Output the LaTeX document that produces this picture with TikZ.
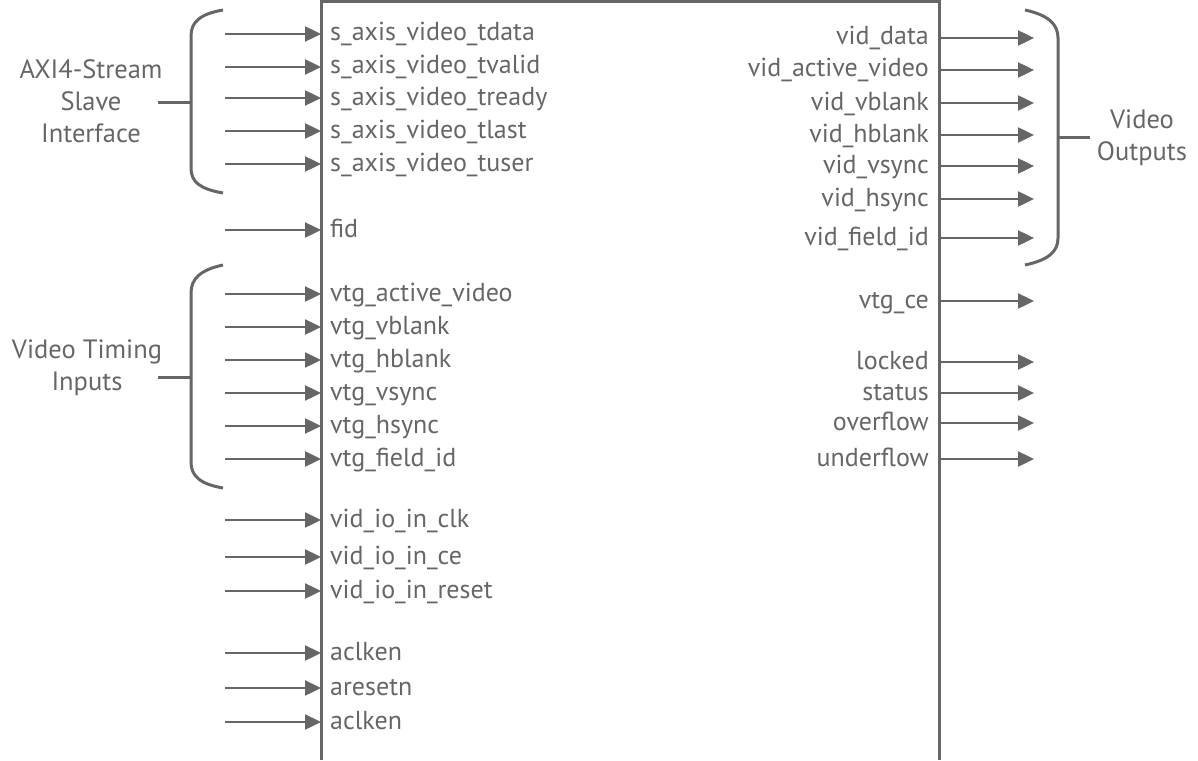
\documentclass[tikz,border=0pt]{standalone}
\usepackage{fontspec}
\setmainfont{PT Sans}
\usepackage{tikz}
\usetikzlibrary{arrows.meta, positioning}
\definecolor{wiregray}{RGB}{102,102,102}
\tikzset{
  wire/.style={draw=wiregray, line width=3pt},
  sigarrow/.style={draw=wiregray, line width=2.4pt, -{Triangle[length=16pt, width=15pt]}},
  insig/.style={anchor=west, inner sep=0pt, text height=14pt, text depth=0pt, text=wiregray, font=\fontsize{26}{30}\selectfont},
  outsig/.style={anchor=east, inner sep=0pt, text height=14pt, text depth=0pt, text=wiregray, font=\fontsize{26}{30}\selectfont},
  grouplbl/.style={align=center, inner sep=0pt, text=wiregray, font=\fontsize{26.5}{32}\selectfont},
}

\begin{document}
\begin{tikzpicture}[x=1pt, y=-1pt]
        \useasboundingbox (0, 0) rectangle (1198, 760);

        % the core block, open at the bottom
        \coordinate (boxtl) at (321, 1.5);
        \coordinate (boxtr) at (939, 1.5);
        \draw [wire] (321, 760) -- (boxtl) -- (boxtr) -- (939, 760);

        \coordinate (instart) at (225, 0);
        \coordinate (outend) at (1034, 0);

        % inputs
        \node[insig] at (330, 34)   (tdata) {s\_axis\_video\_tdata};
        \node[insig] at (330, 67)   (tvalid) {s\_axis\_video\_tvalid};
        \node[insig] at (330, 98)   (tready) {s\_axis\_video\_tready};
        \node[insig] at (330, 131)  (tlast) {s\_axis\_video\_tlast};
        \node[insig] at (330, 164)  (tuser) {s\_axis\_video\_tuser};
        \node[insig] at (330, 230)  (fid) {fid};
        \node[insig] at (330, 294)  (vtgact) {vtg\_active\_video};
        \node[insig] at (330, 327)  (vtgvb) {vtg\_vblank};
        \node[insig] at (330, 360)  (vtghb) {vtg\_hblank};
        \node[insig] at (330, 393)  (vtgvs) {vtg\_vsync};
        \node[insig] at (330, 426)  (vtghs) {vtg\_hsync};
        \node[insig] at (330, 459)  (vtgfid) {vtg\_field\_id};
        \node[insig] at (330, 520)  (ioclk) {vid\_io\_in\_clk};
        \node[insig] at (330, 557)  (ioce) {vid\_io\_in\_ce};
        \node[insig] at (330, 591)  (iorst) {vid\_io\_in\_reset};
        \node[insig] at (330, 653)  (aclkenA) {aclken};
        \node[insig] at (330, 688)  (aresetn) {aresetn};
        \node[insig] at (330, 722)  (aclkenB) {aclken};

        \draw [sigarrow] (tdata.west -| instart) -- (tdata.west -| boxtl);
        \draw [sigarrow] (tvalid.west -| instart) -- (tvalid.west -| boxtl);
        \draw [sigarrow] (tready.west -| instart) -- (tready.west -| boxtl);
        \draw [sigarrow] (tlast.west -| instart) -- (tlast.west -| boxtl);
        \draw [sigarrow] (tuser.west -| instart) -- (tuser.west -| boxtl);
        \draw [sigarrow] (fid.west -| instart) -- (fid.west -| boxtl);
        \draw [sigarrow] (vtgact.west -| instart) -- (vtgact.west -| boxtl);
        \draw [sigarrow] (vtgvb.west -| instart) -- (vtgvb.west -| boxtl);
        \draw [sigarrow] (vtghb.west -| instart) -- (vtghb.west -| boxtl);
        \draw [sigarrow] (vtgvs.west -| instart) -- (vtgvs.west -| boxtl);
        \draw [sigarrow] (vtghs.west -| instart) -- (vtghs.west -| boxtl);
        \draw [sigarrow] (vtgfid.west -| instart) -- (vtgfid.west -| boxtl);
        \draw [sigarrow] (ioclk.west -| instart) -- (ioclk.west -| boxtl);
        \draw [sigarrow] (ioce.west -| instart) -- (ioce.west -| boxtl);
        \draw [sigarrow] (iorst.west -| instart) -- (iorst.west -| boxtl);
        \draw [sigarrow] (aclkenA.west -| instart) -- (aclkenA.west -| boxtl);
        \draw [sigarrow] (aresetn.west -| instart) -- (aresetn.west -| boxtl);
        \draw [sigarrow] (aclkenB.west -| instart) -- (aclkenB.west -| boxtl);

        % outputs
        \node[outsig] at (929, 38)   (viddata) {vid\_data};
        \node[outsig] at (929, 70)   (vidact) {vid\_active\_video};
        \node[outsig] at (929, 103)  (vidvb) {vid\_vblank};
        \node[outsig] at (929, 135)  (vidhb) {vid\_hblank};
        \node[outsig] at (929, 166)  (vidvs) {vid\_vsync};
        \node[outsig] at (929, 199)  (vidhs) {vid\_hsync};
        \node[outsig] at (929, 238)  (vidfid) {vid\_field\_id};
        \node[outsig] at (929, 301)  (vtgce) {vtg\_ce};
        \node[outsig] at (929, 362)  (locked) {locked};
        \node[outsig] at (929, 393)  (status) {status};
        \node[outsig] at (929, 423)  (overflow) {overflow};
        \node[outsig] at (929, 459)  (underflow) {underflow};

        \draw [sigarrow] (viddata.east -| boxtr) -- (viddata.east -| outend);
        \draw [sigarrow] (vidact.east -| boxtr) -- (vidact.east -| outend);
        \draw [sigarrow] (vidvb.east -| boxtr) -- (vidvb.east -| outend);
        \draw [sigarrow] (vidhb.east -| boxtr) -- (vidhb.east -| outend);
        \draw [sigarrow] (vidvs.east -| boxtr) -- (vidvs.east -| outend);
        \draw [sigarrow] (vidhs.east -| boxtr) -- (vidhs.east -| outend);
        \draw [sigarrow] (vidfid.east -| boxtr) -- (vidfid.east -| outend);
        \draw [sigarrow] (vtgce.east -| boxtr) -- (vtgce.east -| outend);
        \draw [sigarrow] (locked.east -| boxtr) -- (locked.east -| outend);
        \draw [sigarrow] (status.east -| boxtr) -- (status.east -| outend);
        \draw [sigarrow] (overflow.east -| boxtr) -- (overflow.east -| outend);
        \draw [sigarrow] (underflow.east -| boxtr) -- (underflow.east -| outend);

        % group braces and their labels
        \node[grouplbl] at (91, 101) (axilbl) {AXI4-Stream\\Slave\\Interface};
        \node[grouplbl] at (87, 368) (vtilbl) {Video Timing\\Inputs};
        \node[grouplbl] at (1142, 138) (vidlbl) {Video\\Outputs};

        \coordinate (axibr) at (191, 102);
        \coordinate (vtibr) at (191, 377);
        \coordinate (vidbr) at (1058, 137);

        \draw [wire] (223, 10) .. controls (200, 14) and (191, 22) .. (191, 36) -- (191, 168)
              .. controls (191, 182) and (200, 189) .. (223, 193);
        \draw [wire] (223, 265) .. controls (200, 270) and (191, 279) .. (191, 293) -- (191, 462)
              .. controls (191, 476) and (200, 484) .. (223, 488);
        \draw [wire] (1025, 10) .. controls (1048, 15) and (1058, 24) .. (1058, 38) -- (1058, 238)
              .. controls (1058, 252) and (1048, 260) .. (1025, 265);
        \draw [wire] (axibr) -- ++(-33, 0);
        \draw [wire] (vtibr) -- ++(-33, 0);
        \draw [wire] (vidbr) -- ++(32, 0);
\end{tikzpicture}
\end{document}
